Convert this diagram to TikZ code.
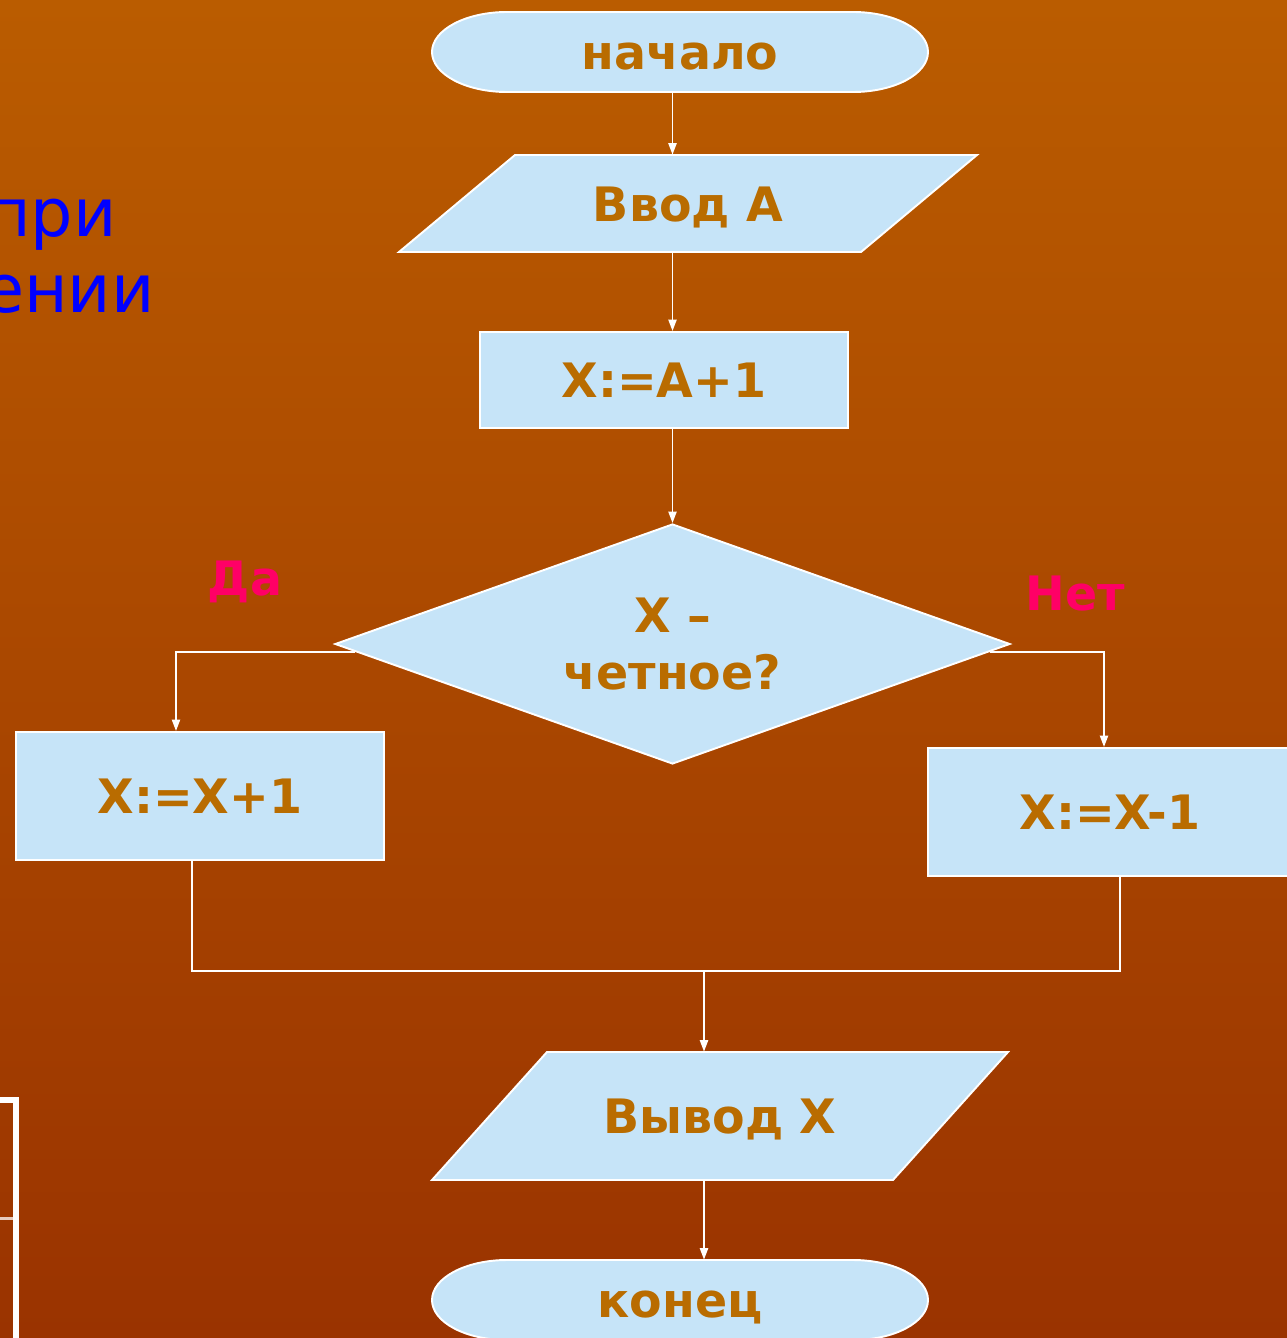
\documentclass[tikz,border=0pt]{standalone}
\usepackage{fontspec}
\setmainfont{DejaVu Sans}
\usetikzlibrary{arrows.meta,calc,shapes.geometric}
\definecolor{bgtop}{RGB}{186,92,0}
\definecolor{bgbot}{RGB}{154,51,0}
\definecolor{boxfill}{RGB}{198,228,248}
\definecolor{txtc}{RGB}{185,108,0}
\definecolor{magc}{RGB}{255,0,102}
\definecolor{bluec}{RGB}{0,0,255}
\newlength\pxu \setlength\pxu{0.02cm}
\begin{document}
\begin{tikzpicture}[x=0.02cm,y=-0.02cm,
 shp/.style={draw=white,line width=1.1pt,fill=boxfill},
 lbl/.style={font=\fontsize{27}{32}\selectfont\bfseries,text=txtc,inner sep=0pt,text height=20pt,text depth=0pt},
 conn/.style={draw=white,line width=1.1pt},
 arr/.style={conn,-{Triangle[length=6.5pt,width=4.6pt]}},
 side/.style={font=\fontsize{38}{45}\selectfont,text=bluec,inner sep=0pt,anchor=base east},
]
\useasboundingbox (0,0) rectangle (1287,1338);
\shade[top color=bgtop,bottom color=bgbot] (0,0) rectangle (1287,1338);

% cropped text fragments at the left
\node[side] (t1) at (117,236) {при};
\node[side] (t2) at (155,312) {ении};

% cropped table edge, bottom left
\fill[white] (0,1097) rectangle (19,1103);
\fill[white] (13,1097) rectangle (19,1338);
\fill[white!75!bgbot] (0,1217) rectangle (13,1220);

% start terminal
\draw[shp] (507,12) -- (853,12) arc[start angle=-90,end angle=90,x radius=75,y radius=40] -- (507,92) arc[start angle=90,end angle=270,x radius=75,y radius=40] -- cycle;
\node[lbl,minimum width=496\pxu,minimum height=80\pxu] (start) at (680,52) {начало};

% input
\draw[shp] (515,155) -- (977,155) -- (861,252) -- (399,252) -- cycle;
\node[lbl,minimum width=462\pxu,minimum height=97\pxu] (in) at (688,203.5) {Ввод А};

% process
\node[lbl,shp,minimum width=368\pxu,minimum height=96\pxu] (a1) at (664,380) {X:=A+1};

% decision
\node[shp,diamond,aspect=2.8125,minimum width=675\pxu,minimum height=240\pxu,inner sep=0pt,align=center,font=\fontsize{27}{32}\selectfont\bfseries,text=txtc] (dec) at (672.5,644) {X –\\четное?};

\node[lbl,text=magc] (yes) at (245,578) {Да};
\node[lbl,text=magc] (no) at (1075,593) {Нет};

\node[lbl,shp,minimum width=368\pxu,minimum height=128\pxu] (xp1) at (200,796) {X:=X+1};
\node[lbl,shp,minimum width=364\pxu,minimum height=128\pxu] (xm1) at (1110,812) {X:=X-1};

% output
\draw[shp] (547,1052) -- (1008,1052) -- (893,1180) -- (432,1180) -- cycle;
\node[lbl,minimum width=461\pxu,minimum height=128\pxu] (out) at (720,1116) {Вывод X};

% end terminal
\draw[shp] (507,1260) -- (853,1260) arc[start angle=-90,end angle=90,x radius=75,y radius=40] -- (507,1340) arc[start angle=90,end angle=270,x radius=75,y radius=40] -- cycle;
\node[lbl,minimum width=496\pxu,minimum height=80\pxu] (end) at (680,1300) {конец};

% connectors
\draw[arr] (start.south -| dec.north) -- (in.north -| dec.north);
\draw[arr] (in.south -| dec.north) -- (a1.north -| dec.north);
\draw[arr] (a1.south -| dec.north) -- (dec.north);
\coordinate (yesout) at (355,652);
\coordinate (noout) at (990,652);
\draw[arr] (yesout) -| ($(xp1.north)+(-24,0)$);
\draw[arr] (noout) -| ($(xm1.north)+(-6,0)$);
\coordinate (join) at (704,971);
\draw[conn] ($(xp1.south)+(-8,0)$) |- (join) -| ($(xm1.south)+(10,0)$);
\draw[arr] (join) -- (out.north -| join);
\draw[arr] (out.south -| join) -- (end.north -| join);
\end{tikzpicture}
\end{document}
